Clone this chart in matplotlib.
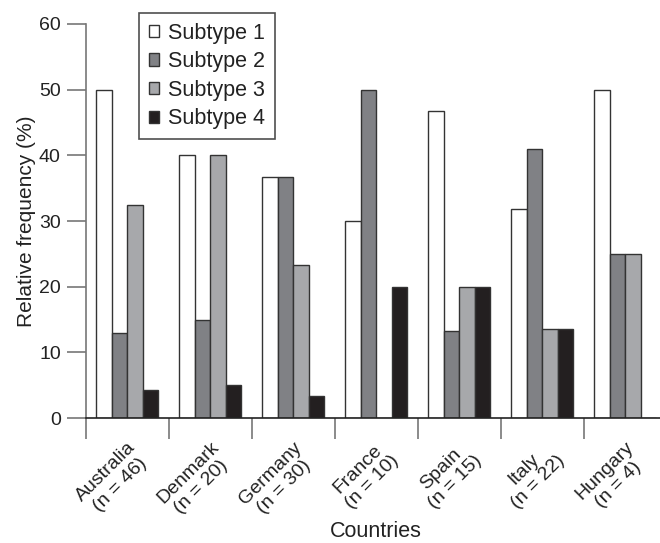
import matplotlib
matplotlib.use("Agg")
import matplotlib.pyplot as plt
import numpy as np

plt.rcParams['font.family'] = ['Liberation Sans', 'DejaVu Sans']

countries = ["Australia\n(n = 46)", "Denmark\n(n = 20)", "Germany\n(n = 30)",
             "France\n(n = 10)", "Spain\n(n = 15)", "Italy\n(n = 22)", "Hungary\n(n = 4)"]
subtype1 = [50, 40, 36.7, 30, 46.7, 31.8, 50]
subtype2 = [13, 15, 36.7, 50, 13.3, 40.9, 25]
subtype3 = [32.5, 40, 23.3, 0, 20, 13.6, 25]
subtype4 = [4.3, 5, 3.3, 20, 20, 13.6, 0]
series_names = ["Subtype 1", "Subtype 2", "Subtype 3", "Subtype 4"]
colors = ["#ffffff", "#808185", "#a7a8ab", "#231f20"]

fig = plt.figure(figsize=(6.6, 5.43), dpi=100)
ax = fig.add_axes([0.130, 0.230, 0.870, 0.726])

x = np.arange(len(countries))
w = 0.187
data = [subtype1, subtype2, subtype3, subtype4]
for i, (vals, c, name) in enumerate(zip(data, colors, series_names)):
    ax.bar(x + (i - 1.5) * w, vals, width=w, color=c, edgecolor="#333333",
           linewidth=1.0, label=name)

ax.set_xlim(-0.5, 6.42)
ax.set_ylim(0, 60)
ax.set_yticks([0, 10, 20, 30, 40, 50, 60])
ax.tick_params(axis='y', length=14, width=1.2, color="#777777", labelsize=14, pad=4,
               labelcolor="#222222")

ax.set_xticks(x)
ax.set_xticklabels(countries, rotation=45, ha='right', rotation_mode='anchor',
                   multialignment='center', fontsize=14, color="#222222",
                   linespacing=1.15)
ax.tick_params(axis='x', which='major', length=0, pad=15)
ax.set_xticks(np.arange(-0.5, 6.5, 1.0), minor=True)
ax.tick_params(axis='x', which='minor', length=15, width=1.2, color="#777777")

for s in ["top", "right"]:
    ax.spines[s].set_visible(False)
ax.spines["left"].set_color("#777777")
ax.spines["left"].set_linewidth(1.2)
ax.spines["bottom"].set_color("#222222")
ax.spines["bottom"].set_linewidth(1.2)

ax.set_ylabel("Relative frequency (%)", fontsize=15, labelpad=2, color="#222222")
fig.text(376 / 660, 1 - 537 / 543, "Countries", fontsize=15.5, color="#222222",
         ha='center', va='baseline')

leg = ax.legend(loc='upper left', bbox_to_anchor=(139/660, 1 - 13/543),
                bbox_transform=fig.transFigure, fontsize=15.5, frameon=True,
                fancybox=False, edgecolor="#222222", handlelength=0.5,
                handleheight=0.5, handletextpad=0.4, borderpad=0.45,
                labelspacing=0.35, borderaxespad=0)
leg.get_frame().set_linewidth(1.2)
for t in leg.get_texts():
    t.set_color("#222222")

fig.savefig("out.png", dpi=100)
